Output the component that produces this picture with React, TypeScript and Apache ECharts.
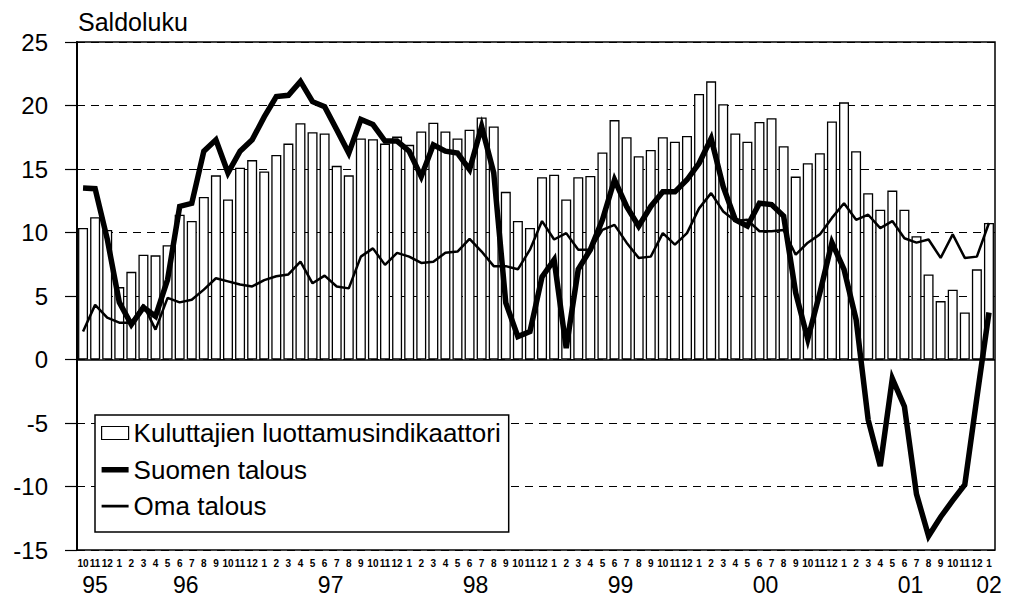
import React, { useEffect, useRef } from "react";
import * as echarts from "echarts";

// Months from Oct 1995 to Jan 2002
const monthLabels: string[] = [
  "10", "11", "12",
  "1", "2", "3", "4", "5", "6", "7", "8", "9", "10", "11", "12",
  "1", "2", "3", "4", "5", "6", "7", "8", "9", "10", "11", "12",
  "1", "2", "3", "4", "5", "6", "7", "8", "9", "10", "11", "12",
  "1", "2", "3", "4", "5", "6", "7", "8", "9", "10", "11", "12",
  "1", "2", "3", "4", "5", "6", "7", "8", "9", "10", "11", "12",
  "1", "2", "3", "4", "5", "6", "7", "8", "9", "10", "11", "12",
  "1",
];
// year label of each month
const monthYears: string[] = [
  "95", "95", "95",
  ...Array(12).fill("96"), ...Array(12).fill("97"), ...Array(12).fill("98"),
  ...Array(12).fill("99"), ...Array(12).fill("00"), ...Array(12).fill("01"),
  "02",
];

const kuluttajat: number[] = [
  10.35, 11.2, 10.2,
  5.7, 6.9, 8.25, 8.2, 9.0, 11.4, 10.9, 12.8, 14.5, 12.6, 15.1, 15.7,
  14.8, 16.1, 17.0, 18.6, 17.9, 17.8, 15.25, 14.5, 17.4, 17.35, 17.0, 17.55,
  16.9, 17.95, 18.65, 17.95, 17.4, 18.1, 19.05, 18.35, 13.2, 10.9, 10.35, 14.35,
  14.55, 12.6, 14.35, 14.45, 16.3, 18.85, 17.5, 16.0, 16.5, 17.5, 17.15, 17.6,
  20.9, 21.9, 20.1, 17.8, 17.15, 18.7, 19.0, 16.8, 14.4, 15.45, 16.25, 18.75,
  20.25, 16.4, 13.1, 11.8, 13.3, 11.8, 9.7, 6.7, 4.6, 5.5, 3.7, 7.1,
  10.75,
];

const suomenTalous: number[] = [
  13.5, 13.45, 9.5,
  4.5, 2.75, 4.1, 3.4, 6.3, 12.05, 12.3, 16.4, 17.3, 14.7, 16.4, 17.3,
  19.1, 20.7, 20.8, 21.9, 20.3, 19.9, 18.1, 16.25, 18.9, 18.5, 17.2, 17.2,
  16.4, 14.4, 16.9, 16.4, 16.25, 14.95, 18.35, 14.7, 4.45, 1.8, 2.2, 6.5,
  7.85, 0.9, 7.1, 8.65, 11.0, 14.15, 12.05, 10.5, 12.05, 13.2, 13.2, 14.15,
  15.45, 17.4, 13.6, 11.0, 10.5, 12.3, 12.2, 11.3, 5.25, 1.6, 5.25, 9.2,
  7.1, 3.15, -4.75, -8.4, -1.5, -3.7, -10.6, -13.9, -12.4, -11.1, -9.85, -3.0,
  3.7,
];

const omaTalous: number[] = [
  2.2, 4.3, 3.3,
  2.9, 2.9, 4.3, 2.35, 4.85, 4.5, 4.7, 5.5, 6.4, 6.15, 5.9, 5.75,
  6.25, 6.55, 6.7, 7.7, 6.0, 6.6, 5.75, 5.6, 8.1, 8.75, 7.45, 8.4,
  8.1, 7.6, 7.7, 8.4, 8.5, 9.5, 8.5, 7.35, 7.35, 7.1, 8.65, 10.9,
  9.45, 9.95, 8.65, 8.65, 10.2, 10.6, 9.2, 8.0, 8.1, 9.95, 9.05, 9.95,
  11.9, 13.1, 11.65, 10.9, 11.0, 10.1, 10.1, 10.2, 8.25, 9.2, 9.85, 11.15,
  12.3, 11.0, 11.4, 10.35, 10.9, 9.55, 9.2, 9.45, 8.0, 9.85, 8.0, 8.1,
  10.75,
];

const seriesNames: string[] = [
  "Kuluttajien luottamusindikaattori",
  "Suomen talous",
  "Oma talous",
];

const yTicks = { min: -15, max: 25, interval: 5 };

const FONT = "'Liberation Sans', Arial, Helvetica, sans-serif";

// legend line icons: a horizontal bar inside a 27x13 box (tiny corner marks fix the box)
const THICK_ICON =
  "path://M0,0L0.01,0L0.01,0.01Z M0,4L27,4L27,9.5L0,9.5Z M26.99,13L27,13L27,12.99Z";
const THIN_ICON =
  "path://M0,0L0.01,0L0.01,0.01Z M0,5.2L27,5.2L27,7.9L0,7.9Z M26.99,13L27,13L27,12.99Z";

// centre of each year's run of months, on a 0..N value scale
function yearCentres(): Map<number, string> {
  const m = new Map<number, string>();
  let start = 0;
  for (let i = 1; i <= monthYears.length; i++) {
    if (i === monthYears.length || monthYears[i] !== monthYears[start]) {
      m.set((start + i) / 2, monthYears[start]);
      start = i;
    }
  }
  return m;
}

export default function App() {
  const ref = useRef<HTMLDivElement>(null);

  useEffect(() => {
    if (!ref.current) return;
    const chart = echarts.init(ref.current, null, { renderer: "svg" });
    const centres = yearCentres();
    const n = monthLabels.length;

    chart.setOption({
      animation: false,
      backgroundColor: "#fff",
      textStyle: { fontFamily: FONT, color: "#000" },
      title: {
        text: "Saldoluku",
        left: 78,
        top: 9,
        padding: 0,
        textStyle: { fontFamily: FONT, fontSize: 25, fontWeight: "normal", color: "#000" },
      },
      grid: {
        left: 77,
        right: 23,
        top: 42,
        bottom: 56,
        show: true,
        borderColor: "#000",
        borderWidth: 1.5,
        backgroundColor: "transparent",
      },
      legend: {
        orient: "vertical",
        left: 95,
        top: 415,
        padding: [5, 8, 13, 6],
        itemGap: 10.5,
        itemWidth: 27,
        itemHeight: 13,
        backgroundColor: "#fff",
        borderColor: "#000",
        borderWidth: 1.5,
        borderRadius: 0,
        textStyle: { fontFamily: FONT, fontSize: 26, color: "#000", padding: [0, 0, 0, 0] },
        data: [
          { name: seriesNames[0], icon: "rect", itemStyle: { color: "#fff", borderColor: "#000", borderWidth: 1.2 } },
          { name: seriesNames[1], icon: THICK_ICON, itemStyle: { color: "#000", borderWidth: 0 } },
          { name: seriesNames[2], icon: THIN_ICON, itemStyle: { color: "#000", borderWidth: 0 } },
        ],
      },
      xAxis: [
        {
          type: "category",
          data: monthLabels,
          position: "bottom",
          axisLine: { show: false, onZero: false },
          axisTick: { show: false },
          splitLine: { show: false },
          axisLabel: {
            interval: 0,
            fontFamily: FONT,
            fontSize: 10,
            fontWeight: "bold",
            color: "#000",
            margin: 8,
          },
        },
        {
          type: "value",
          min: 0,
          max: n,
          interval: 0.5,
          position: "bottom",
          axisLine: { show: false, onZero: false },
          axisTick: { show: false },
          splitLine: { show: false },
          axisLabel: {
            showMinLabel: true,
            showMaxLabel: true,
            fontFamily: FONT,
            fontSize: 23,
            color: "#000",
            margin: 23,
            formatter: (v: number) => centres.get(Math.round(v * 2) / 2) ?? "",
          },
        },
      ],
      yAxis: {
        type: "value",
        min: yTicks.min,
        max: yTicks.max,
        interval: yTicks.interval,
        axisLine: { show: true, onZero: false, lineStyle: { color: "#000", width: 2 } },
        axisTick: { show: true, inside: false, length: 12, lineStyle: { color: "#000", width: 1.2 } },
        axisLabel: { fontFamily: FONT, fontSize: 24, color: "#000", margin: 29 },
        splitLine: { show: true, lineStyle: { color: "#000", width: 1.2, type: [8, 6] } },
      },
      series: [
        {
          name: seriesNames[0],
          type: "bar",
          data: kuluttajat,
          xAxisIndex: 0,
          barWidth: 10,
          itemStyle: { color: "#fff", borderColor: "#000", borderWidth: 1.3 },
          markLine: {
            silent: true,
            symbol: "none",
            label: { show: false },
            lineStyle: { color: "#000", width: 1.5, type: "solid" },
            data: [{ yAxis: 0 }],
          },
          z: 2,
        },
        {
          name: seriesNames[1],
          type: "line",
          data: suomenTalous,
          xAxisIndex: 0,
          symbol: "none",
          lineStyle: { color: "#000", width: 5.5, join: "miter" },
          itemStyle: { color: "#000" },
          z: 3,
        },
        {
          name: seriesNames[2],
          type: "line",
          data: omaTalous,
          xAxisIndex: 0,
          symbol: "none",
          lineStyle: { color: "#000", width: 2.5 },
          itemStyle: { color: "#000" },
          z: 4,
        },
      ],
    });

    return () => chart.dispose();
  }, []);

  return (
    <div
      ref={ref}
      style={{ position: "absolute", left: 0, top: 0, width: 1018, height: 606 }}
    />
  );
}
